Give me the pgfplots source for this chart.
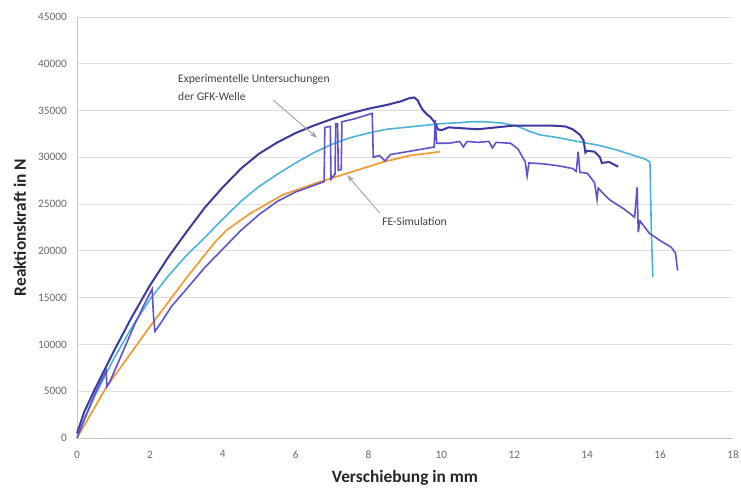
\documentclass[border=0pt]{standalone}
\usepackage{fontspec}
\setmainfont{Carlito}
\usepackage{pgfplots}
\pgfplotsset{compat=1.18}
\usetikzlibrary{arrows.meta}

\definecolor{dunkelblau}{RGB}{58,58,160}
\definecolor{violett}{RGB}{96,82,204}
\definecolor{hellblau}{RGB}{75,180,220}
\definecolor{simorange}{RGB}{242,156,56}
\definecolor{gitter}{RGB}{222,222,222}
\definecolor{ticktext}{RGB}{105,105,105}
\definecolor{pfeil}{RGB}{165,165,165}

\begin{document}
\begin{tikzpicture}
\begin{axis}[
    at={(0,0)}, anchor=south west,
    scale only axis, width=492pt, height=315.75pt,
    xmin=0, xmax=18, ymin=0, ymax=45000,
    xtick={0,2,...,18}, ytick={0,5000,...,45000},
    scaled y ticks=false,
    /pgf/number format/assume math mode=true,
    /pgf/number format/1000 sep={},
    axis x line*=bottom, axis y line*=left,
    axis line style={gray!45, line width=0.6pt},
    major tick length=0pt,
    ymajorgrids=true,
    major grid style={gitter, line width=0.7pt},
    tick label style={font=\fontsize{8.5}{10}\selectfont, text=ticktext},
    xticklabel style={yshift=-6pt},
    yticklabel style={xshift=-4pt},
    xlabel={Verschiebung in mm},
    ylabel={Reaktionskraft in N},
    xlabel style={at={(axis description cs:0.5,-0.095)}, anchor=center,
        font=\fontsize{13}{15}\selectfont\bfseries, text=black!85},
    ylabel style={at={(axis description cs:-0.087,0.5)}, anchor=center,
        font=\fontsize{13}{15}\selectfont\bfseries, text=black!85},
    clip=false,
]

% FE-Simulation
\addplot[simorange, line width=1.3pt] coordinates {
(0,0) (0.8,5400) (2,11900) (3,17100) (3.8,21000) (4.1,22200) (4.75,24000)
(5.65,26000) (6.6,27300) (7.5,28400) (8.4,29500) (9.14,30200) (9.96,30600)
};

% Versuch 2
\addplot[hellblau, line width=1.2pt] coordinates {
(0,0) (0.2,1900) (0.5,4600) (1,8400) (1.5,11800) (2,14800) (2.5,17300)
(3,19500) (3.5,21400) (4,23400) (4.5,25300) (5,26900) (5.5,28200) (6,29400)
(6.5,30500) (7,31400) (7.5,32100) (8,32600) (8.5,33000) (9,33200) (9.5,33400)
(10,33600) (10.5,33700) (10.8,33800) (11.2,33800) (11.7,33650) (12.1,33300)
(12.4,32800) (12.7,32400) (13.2,32100) (13.8,31650) (14.3,31300) (14.8,30800)
(15.2,30300) (15.6,29800) (15.72,29500) (15.76,22000) (15.8,17200)
};

% Versuch 1
\addplot[dunkelblau, line width=1.5pt] coordinates {
(0,500) (0.2,2800) (0.5,5300) (1,9200) (1.5,12900) (2,16300) (2.5,19300)
(3,22000) (3.5,24600) (4,26800) (4.5,28800) (5,30400) (5.5,31600) (6,32600)
(6.5,33400) (7,34100) (7.5,34700) (8,35200) (8.5,35600) (8.9,36000)
(9.1,36300) (9.25,36400) (9.35,36100) (9.42,35500) (9.5,35000) (9.6,34600)
(9.7,34300) (9.78,33900) (9.85,33500) (9.9,33000) (10.0,32900) (10.2,33200)
(10.6,33100) (11.0,33000) (11.5,33200) (12.0,33400) (12.5,33400) (13.0,33400)
(13.4,33300) (13.6,33000) (13.8,32400) (13.9,31800) (13.95,30500) (14.0,30700)
(14.2,30600) (14.35,30000) (14.4,29400) (14.6,29500) (14.7,29300) (14.85,29000)
};

% Versuch 3
\addplot[violett, line width=1.2pt] coordinates {
(0,0) (0.2,2000) (0.5,4800) (0.8,7200) (0.82,5500) (0.9,6000) (1.2,8700)
(1.6,12300) (1.85,14300) (2.06,15900) (2.1,13000) (2.14,11400) (2.3,12300)
(2.6,14100) (3,15900) (3.5,18200) (4,20200) (4.5,22200) (5,23900) (5.5,25300)
(6,26300) (6.5,27000) (6.78,27400) (6.8,33200) (6.95,33300) (6.97,27700)
(7.08,28200) (7.1,33600) (7.15,33600) (7.17,28600) (7.25,28700) (7.27,33800)
(7.6,34100) (8.1,34700) (8.13,30000) (8.3,30200) (8.45,29600) (8.6,30300)
(8.9,30500) (9.2,30700) (9.5,30900) (9.8,31100) (9.83,34000) (9.87,31500)
(10.2,31500) (10.5,31700) (10.6,31100) (10.7,31700) (11.0,31600) (11.3,31700)
(11.4,31000) (11.5,31600) (11.9,31500) (12.1,30900) (12.3,29500) (12.35,28000)
(12.4,29400) (12.8,29300) (13.2,29100) (13.6,28800) (13.7,28500) (13.75,30600)
(13.8,28400) (14.0,28300) (14.2,27300) (14.27,25500) (14.3,26700) (14.6,25500)
(15.0,24500) (15.3,23600) (15.37,26800) (15.4,22000) (15.45,23200) (15.7,21900)
(16.0,21100) (16.3,20400) (16.42,19800) (16.48,17900)
};

% Beschriftungen
\draw[pfeil, line width=0.7pt, -{Stealth[length=6pt,width=4pt]}]
    (axis cs:5.38,36130) -- (axis cs:6.59,32070);
\draw[pfeil, line width=0.7pt, -{Stealth[length=6pt,width=4pt]}]
    (axis cs:8.31,24050) -- (axis cs:7.41,28110);
\node[anchor=west, inner sep=0pt, font=\fontsize{8.7}{11}\selectfont, text=black!75]
    at (axis cs:2.77,38270) {Experimentelle Untersuchungen};
\node[anchor=west, inner sep=0pt, font=\fontsize{8.7}{11}\selectfont, text=black!75]
    at (axis cs:2.77,36450) {der GFK-Welle};
\node[anchor=west, inner sep=0pt, font=\fontsize{8.7}{11}\selectfont, text=black!75]
    at (axis cs:8.37,23090) {FE-Simulation};
\end{axis}
\pgfresetboundingbox
\path[use as bounding box] (-57.75pt,-37.5pt) rectangle (498pt,328.5pt);
\end{tikzpicture}
\end{document}
